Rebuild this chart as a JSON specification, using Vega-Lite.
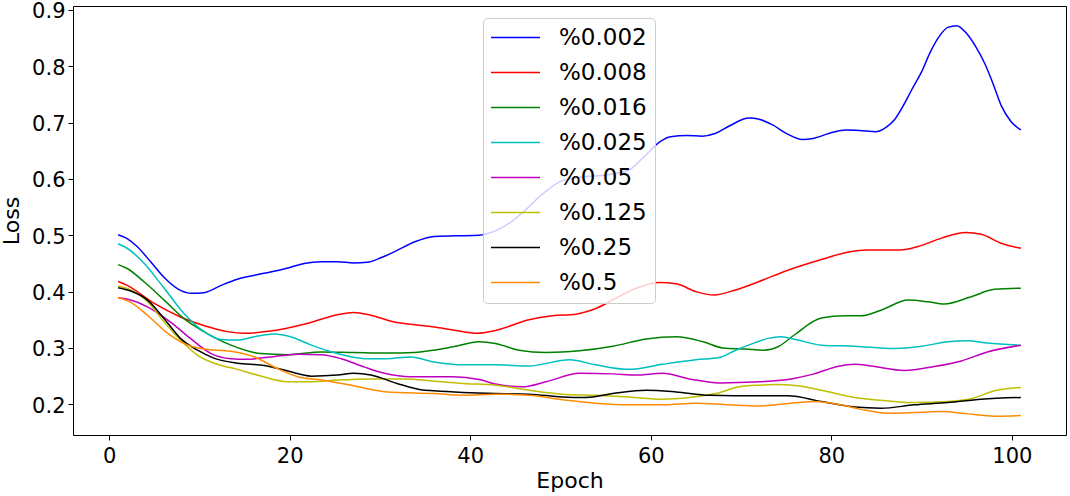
{
  "$schema": "https://vega.github.io/schema/vega-lite/v6.json",
  "width": 993,
  "height": 429,
  "autosize": {"type": "none"},
  "padding": {"left": 73, "top": 6, "right": 4, "bottom": 61},
  "background": "white",
  "config": {
    "view": {"stroke": "black", "strokeWidth": 1},
    "font": "DejaVu Sans",
    "axis": {
      "domain": false, "grid": false, "tickColor": "black", "tickSize": 5, "tickWidth": 1,
      "labelFont": "DejaVu Sans", "labelFontSize": 21, "labelColor": "black",
      "titleFont": "DejaVu Sans", "titleFontSize": 22, "titleFontWeight": "normal", "titleColor": "black"
    }
  },
  "data": {"values": [
    {"s":"%0.002","e":1,"v":0.501},{"s":"%0.002","e":2,"v":0.494},{"s":"%0.002","e":3.1,"v":0.480},{"s":"%0.002","e":4.6,"v":0.453},{"s":"%0.002","e":6.1,"v":0.425},{"s":"%0.002","e":7.6,"v":0.405},{"s":"%0.002","e":9.2,"v":0.397},{"s":"%0.002","e":10.5,"v":0.398},{"s":"%0.002","e":12.4,"v":0.411},{"s":"%0.002","e":14.2,"v":0.422},{"s":"%0.002","e":16.1,"v":0.429},{"s":"%0.002","e":17.9,"v":0.435},{"s":"%0.002","e":19.8,"v":0.442},{"s":"%0.002","e":21.6,"v":0.450},{"s":"%0.002","e":23.5,"v":0.453},{"s":"%0.002","e":25.3,"v":0.453},{"s":"%0.002","e":27.1,"v":0.451},{"s":"%0.002","e":28.6,"v":0.452},{"s":"%0.002","e":30.1,"v":0.460},{"s":"%0.002","e":32,"v":0.474},{"s":"%0.002","e":33.8,"v":0.488},{"s":"%0.002","e":36,"v":0.498},{"s":"%0.002","e":38.5,"v":0.499},{"s":"%0.002","e":41,"v":0.500},{"s":"%0.002","e":42.5,"v":0.506},{"s":"%0.002","e":44.3,"v":0.521},{"s":"%0.002","e":46,"v":0.543},{"s":"%0.002","e":48,"v":0.573},{"s":"%0.002","e":50.2,"v":0.597},{"s":"%0.002","e":52.8,"v":0.604},{"s":"%0.002","e":55,"v":0.607},{"s":"%0.002","e":57.6,"v":0.616},{"s":"%0.002","e":59.3,"v":0.640},{"s":"%0.002","e":61,"v":0.666},{"s":"%0.002","e":62.2,"v":0.675},{"s":"%0.002","e":64,"v":0.677},{"s":"%0.002","e":65.7,"v":0.676},{"s":"%0.002","e":67.2,"v":0.681},{"s":"%0.002","e":68.7,"v":0.694},{"s":"%0.002","e":70.9,"v":0.708},{"s":"%0.002","e":72,"v":0.706},{"s":"%0.002","e":73.5,"v":0.696},{"s":"%0.002","e":75,"v":0.681},{"s":"%0.002","e":76.8,"v":0.670},{"s":"%0.002","e":78,"v":0.672},{"s":"%0.002","e":79.8,"v":0.681},{"s":"%0.002","e":81.6,"v":0.687},{"s":"%0.002","e":83.1,"v":0.686},{"s":"%0.002","e":85,"v":0.684},{"s":"%0.002","e":86.1,"v":0.692},{"s":"%0.002","e":87,"v":0.705},{"s":"%0.002","e":87.9,"v":0.728},{"s":"%0.002","e":89,"v":0.761},{"s":"%0.002","e":90,"v":0.790},{"s":"%0.002","e":90.9,"v":0.823},{"s":"%0.002","e":92,"v":0.854},{"s":"%0.002","e":92.9,"v":0.869},{"s":"%0.002","e":93.9,"v":0.872},{"s":"%0.002","e":94.9,"v":0.860},{"s":"%0.002","e":96,"v":0.835},{"s":"%0.002","e":97,"v":0.805},{"s":"%0.002","e":97.9,"v":0.770},{"s":"%0.002","e":98.8,"v":0.731},{"s":"%0.002","e":99.9,"v":0.702},{"s":"%0.002","e":101,"v":0.687},

    {"s":"%0.008","e":1,"v":0.418},{"s":"%0.008","e":2,"v":0.411},{"s":"%0.008","e":5,"v":0.379},{"s":"%0.008","e":7.9,"v":0.355},{"s":"%0.008","e":10.5,"v":0.340},{"s":"%0.008","e":13.1,"v":0.329},{"s":"%0.008","e":15,"v":0.326},{"s":"%0.008","e":17.9,"v":0.330},{"s":"%0.008","e":21.6,"v":0.342},{"s":"%0.008","e":25.3,"v":0.359},{"s":"%0.008","e":27.1,"v":0.363},{"s":"%0.008","e":29,"v":0.358},{"s":"%0.008","e":31.6,"v":0.346},{"s":"%0.008","e":33.4,"v":0.342},{"s":"%0.008","e":36,"v":0.337},{"s":"%0.008","e":38.1,"v":0.332},{"s":"%0.008","e":40.8,"v":0.326},{"s":"%0.008","e":42.8,"v":0.331},{"s":"%0.008","e":46.5,"v":0.350},{"s":"%0.008","e":49.1,"v":0.357},{"s":"%0.008","e":51.7,"v":0.360},{"s":"%0.008","e":53.9,"v":0.370},{"s":"%0.008","e":56.1,"v":0.388},{"s":"%0.008","e":58.4,"v":0.406},{"s":"%0.008","e":61,"v":0.416},{"s":"%0.008","e":62.8,"v":0.414},{"s":"%0.008","e":65,"v":0.400},{"s":"%0.008","e":67,"v":0.394},{"s":"%0.008","e":69.4,"v":0.403},{"s":"%0.008","e":72,"v":0.418},{"s":"%0.008","e":75.2,"v":0.438},{"s":"%0.008","e":78.9,"v":0.457},{"s":"%0.008","e":81.8,"v":0.470},{"s":"%0.008","e":84,"v":0.474},{"s":"%0.008","e":87.7,"v":0.474},{"s":"%0.008","e":89.6,"v":0.480},{"s":"%0.008","e":92.2,"v":0.495},{"s":"%0.008","e":94.9,"v":0.505},{"s":"%0.008","e":96.6,"v":0.502},{"s":"%0.008","e":98.8,"v":0.486},{"s":"%0.008","e":101,"v":0.477},

    {"s":"%0.016","e":1,"v":0.448},{"s":"%0.016","e":2,"v":0.441},{"s":"%0.016","e":3.9,"v":0.417},{"s":"%0.016","e":6.1,"v":0.385},{"s":"%0.016","e":8.3,"v":0.352},{"s":"%0.016","e":10.5,"v":0.329},{"s":"%0.016","e":13.5,"v":0.305},{"s":"%0.016","e":16.8,"v":0.290},{"s":"%0.016","e":19.8,"v":0.288},{"s":"%0.016","e":23.5,"v":0.293},{"s":"%0.016","e":27.1,"v":0.292},{"s":"%0.016","e":30.8,"v":0.291},{"s":"%0.016","e":33.8,"v":0.292},{"s":"%0.016","e":36,"v":0.296},{"s":"%0.016","e":38.1,"v":0.302},{"s":"%0.016","e":41,"v":0.311},{"s":"%0.016","e":42.8,"v":0.308},{"s":"%0.016","e":45.4,"v":0.296},{"s":"%0.016","e":48.4,"v":0.292},{"s":"%0.016","e":52.1,"v":0.295},{"s":"%0.016","e":55.8,"v":0.303},{"s":"%0.016","e":59.5,"v":0.316},{"s":"%0.016","e":62.8,"v":0.320},{"s":"%0.016","e":65.8,"v":0.311},{"s":"%0.016","e":68,"v":0.300},{"s":"%0.016","e":70.5,"v":0.298},{"s":"%0.016","e":72.5,"v":0.296},{"s":"%0.016","e":74.2,"v":0.303},{"s":"%0.016","e":75.9,"v":0.323},{"s":"%0.016","e":78.9,"v":0.353},{"s":"%0.016","e":81.5,"v":0.357},{"s":"%0.016","e":83.3,"v":0.357},{"s":"%0.016","e":85.5,"v":0.367},{"s":"%0.016","e":88.5,"v":0.385},{"s":"%0.016","e":90.7,"v":0.382},{"s":"%0.016","e":92.5,"v":0.378},{"s":"%0.016","e":95.5,"v":0.391},{"s":"%0.016","e":98.1,"v":0.404},{"s":"%0.016","e":101,"v":0.406},

    {"s":"%0.025","e":1,"v":0.485},{"s":"%0.025","e":2,"v":0.477},{"s":"%0.025","e":3.9,"v":0.450},{"s":"%0.025","e":6.1,"v":0.406},{"s":"%0.025","e":8.3,"v":0.361},{"s":"%0.025","e":10.5,"v":0.329},{"s":"%0.025","e":12.4,"v":0.315},{"s":"%0.025","e":14.2,"v":0.314},{"s":"%0.025","e":16.1,"v":0.320},{"s":"%0.025","e":18.3,"v":0.325},{"s":"%0.025","e":20.1,"v":0.320},{"s":"%0.025","e":22.4,"v":0.305},{"s":"%0.025","e":25.3,"v":0.290},{"s":"%0.025","e":28.3,"v":0.281},{"s":"%0.025","e":30.8,"v":0.281},{"s":"%0.025","e":33.4,"v":0.284},{"s":"%0.025","e":36,"v":0.275},{"s":"%0.025","e":39.2,"v":0.270},{"s":"%0.025","e":42.8,"v":0.270},{"s":"%0.025","e":46.5,"v":0.268},{"s":"%0.025","e":51,"v":0.279},{"s":"%0.025","e":53.9,"v":0.270},{"s":"%0.025","e":57.6,"v":0.262},{"s":"%0.025","e":61.3,"v":0.271},{"s":"%0.025","e":65,"v":0.279},{"s":"%0.025","e":67.6,"v":0.283},{"s":"%0.025","e":69.4,"v":0.296},{"s":"%0.025","e":71.5,"v":0.309},{"s":"%0.025","e":73,"v":0.317},{"s":"%0.025","e":74.4,"v":0.320},{"s":"%0.025","e":76.3,"v":0.314},{"s":"%0.025","e":78.9,"v":0.305},{"s":"%0.025","e":82.6,"v":0.303},{"s":"%0.025","e":87,"v":0.299},{"s":"%0.025","e":90,"v":0.303},{"s":"%0.025","e":92.9,"v":0.311},{"s":"%0.025","e":95.1,"v":0.313},{"s":"%0.025","e":97.3,"v":0.309},{"s":"%0.025","e":101,"v":0.305},

    {"s":"%0.05","e":1,"v":0.389},{"s":"%0.05","e":2.4,"v":0.385},{"s":"%0.05","e":4.25,"v":0.373},{"s":"%0.05","e":6.8,"v":0.346},{"s":"%0.05","e":9,"v":0.317},{"s":"%0.05","e":11.3,"v":0.290},{"s":"%0.05","e":13.5,"v":0.281},{"s":"%0.05","e":15.3,"v":0.280},{"s":"%0.05","e":17.9,"v":0.284},{"s":"%0.05","e":20.9,"v":0.289},{"s":"%0.05","e":23.5,"v":0.288},{"s":"%0.05","e":25.7,"v":0.281},{"s":"%0.05","e":28.3,"v":0.266},{"s":"%0.05","e":30.5,"v":0.255},{"s":"%0.05","e":33.4,"v":0.249},{"s":"%0.05","e":36,"v":0.249},{"s":"%0.05","e":38.1,"v":0.249},{"s":"%0.05","e":41,"v":0.244},{"s":"%0.05","e":42.8,"v":0.236},{"s":"%0.05","e":45.8,"v":0.231},{"s":"%0.05","e":48.4,"v":0.240},{"s":"%0.05","e":52.1,"v":0.255},{"s":"%0.05","e":55.8,"v":0.254},{"s":"%0.05","e":58.4,"v":0.252},{"s":"%0.05","e":61.3,"v":0.255},{"s":"%0.05","e":64.6,"v":0.244},{"s":"%0.05","e":67.6,"v":0.238},{"s":"%0.05","e":72,"v":0.240},{"s":"%0.05","e":75.2,"v":0.244},{"s":"%0.05","e":78.1,"v":0.254},{"s":"%0.05","e":80.7,"v":0.267},{"s":"%0.05","e":82.6,"v":0.271},{"s":"%0.05","e":84.4,"v":0.268},{"s":"%0.05","e":88.1,"v":0.260},{"s":"%0.05","e":91.4,"v":0.267},{"s":"%0.05","e":94.4,"v":0.277},{"s":"%0.05","e":97.3,"v":0.293},{"s":"%0.05","e":101,"v":0.305},

    {"s":"%0.125","e":1,"v":0.410},{"s":"%0.125","e":2.4,"v":0.403},{"s":"%0.125","e":4.25,"v":0.382},{"s":"%0.125","e":6.1,"v":0.346},{"s":"%0.125","e":7.9,"v":0.314},{"s":"%0.125","e":9.8,"v":0.287},{"s":"%0.125","e":12,"v":0.271},{"s":"%0.125","e":14.2,"v":0.262},{"s":"%0.125","e":16.4,"v":0.252},{"s":"%0.125","e":19.8,"v":0.240},{"s":"%0.125","e":22.4,"v":0.240},{"s":"%0.125","e":25.3,"v":0.243},{"s":"%0.125","e":29,"v":0.245},{"s":"%0.125","e":32.7,"v":0.245},{"s":"%0.125","e":36,"v":0.241},{"s":"%0.125","e":39.2,"v":0.237},{"s":"%0.125","e":42.8,"v":0.234},{"s":"%0.125","e":46.5,"v":0.225},{"s":"%0.125","e":50.2,"v":0.218},{"s":"%0.125","e":53.9,"v":0.216},{"s":"%0.125","e":57.6,"v":0.213},{"s":"%0.125","e":61.3,"v":0.209},{"s":"%0.125","e":64.3,"v":0.212},{"s":"%0.125","e":67.2,"v":0.219},{"s":"%0.125","e":69.8,"v":0.231},{"s":"%0.125","e":72,"v":0.234},{"s":"%0.125","e":73.7,"v":0.235},{"s":"%0.125","e":76.3,"v":0.233},{"s":"%0.125","e":78.9,"v":0.225},{"s":"%0.125","e":82.6,"v":0.212},{"s":"%0.125","e":86.3,"v":0.206},{"s":"%0.125","e":89.2,"v":0.203},{"s":"%0.125","e":92.9,"v":0.205},{"s":"%0.125","e":95.5,"v":0.210},{"s":"%0.125","e":98.1,"v":0.224},{"s":"%0.125","e":101,"v":0.230},

    {"s":"%0.25","e":1,"v":0.407},{"s":"%0.25","e":2.4,"v":0.401},{"s":"%0.25","e":4.25,"v":0.385},{"s":"%0.25","e":6.1,"v":0.352},{"s":"%0.25","e":7.9,"v":0.317},{"s":"%0.25","e":9.8,"v":0.296},{"s":"%0.25","e":11.6,"v":0.282},{"s":"%0.25","e":14.2,"v":0.273},{"s":"%0.25","e":17.2,"v":0.269},{"s":"%0.25","e":19.8,"v":0.259},{"s":"%0.25","e":22.4,"v":0.250},{"s":"%0.25","e":25.3,"v":0.252},{"s":"%0.25","e":27.1,"v":0.255},{"s":"%0.25","e":29,"v":0.252},{"s":"%0.25","e":31.9,"v":0.237},{"s":"%0.25","e":34.5,"v":0.226},{"s":"%0.25","e":36,"v":0.224},{"s":"%0.25","e":39.2,"v":0.221},{"s":"%0.25","e":42.8,"v":0.219},{"s":"%0.25","e":46.5,"v":0.218},{"s":"%0.25","e":50.2,"v":0.213},{"s":"%0.25","e":52.8,"v":0.212},{"s":"%0.25","e":55.8,"v":0.219},{"s":"%0.25","e":59.5,"v":0.225},{"s":"%0.25","e":62.8,"v":0.222},{"s":"%0.25","e":66.5,"v":0.216},{"s":"%0.25","e":72,"v":0.215},{"s":"%0.25","e":75.2,"v":0.215},{"s":"%0.25","e":78.9,"v":0.205},{"s":"%0.25","e":82.6,"v":0.195},{"s":"%0.25","e":85.5,"v":0.193},{"s":"%0.25","e":89.2,"v":0.199},{"s":"%0.25","e":92.9,"v":0.203},{"s":"%0.25","e":96.6,"v":0.209},{"s":"%0.25","e":101,"v":0.212},

    {"s":"%0.5","e":1,"v":0.389},{"s":"%0.5","e":2.4,"v":0.381},{"s":"%0.5","e":4.25,"v":0.358},{"s":"%0.5","e":6.5,"v":0.326},{"s":"%0.5","e":8.3,"v":0.308},{"s":"%0.5","e":10.5,"v":0.298},{"s":"%0.5","e":13.5,"v":0.294},{"s":"%0.5","e":16.1,"v":0.284},{"s":"%0.5","e":18.7,"v":0.263},{"s":"%0.5","e":20.9,"v":0.249},{"s":"%0.5","e":23.5,"v":0.243},{"s":"%0.5","e":27.1,"v":0.233},{"s":"%0.5","e":30.8,"v":0.222},{"s":"%0.5","e":36,"v":0.219},{"s":"%0.5","e":39.2,"v":0.216},{"s":"%0.5","e":42.8,"v":0.218},{"s":"%0.5","e":46.5,"v":0.216},{"s":"%0.5","e":50.2,"v":0.208},{"s":"%0.5","e":53.9,"v":0.202},{"s":"%0.5","e":57.6,"v":0.199},{"s":"%0.5","e":61.3,"v":0.199},{"s":"%0.5","e":65,"v":0.202},{"s":"%0.5","e":68.7,"v":0.199},{"s":"%0.5","e":72,"v":0.197},{"s":"%0.5","e":74.4,"v":0.200},{"s":"%0.5","e":78.1,"v":0.205},{"s":"%0.5","e":81.1,"v":0.199},{"s":"%0.5","e":83.3,"v":0.191},{"s":"%0.5","e":86.3,"v":0.184},{"s":"%0.5","e":90,"v":0.186},{"s":"%0.5","e":92.2,"v":0.187},{"s":"%0.5","e":95.1,"v":0.183},{"s":"%0.5","e":98.1,"v":0.179},{"s":"%0.5","e":101,"v":0.180}
  ]},
  "mark": {"type": "line", "interpolate": "monotone", "strokeWidth": 1.5},
  "encoding": {
    "x": {"field": "e", "type": "quantitative", "title": "Epoch",
      "scale": {"domain": [-4, 106], "nice": false, "zero": false},
      "axis": {"values": [0, 20, 40, 60, 80, 100], "labelPadding": 5, "titlePadding": 4}},
    "y": {"field": "v", "type": "quantitative", "title": "Loss",
      "scale": {"domain": [0.1455, 0.907], "nice": false, "zero": false},
      "axis": {"values": [0.2, 0.3, 0.4, 0.5, 0.6, 0.7, 0.8, 0.9], "format": ".1f", "labelPadding": 3, "labelOffset": 2, "titlePadding": 8}},
    "color": {"field": "s", "type": "nominal",
      "scale": {"domain": ["%0.002", "%0.008", "%0.016", "%0.025", "%0.05", "%0.125", "%0.25", "%0.5"],
                "range": ["#0000ff", "#ff0000", "#008000", "#00bfbf", "#bf00bf", "#bfbf00", "#000000", "#ff8c00"]},
      "legend": {"orient": "none", "legendX": 410, "legendY": 12, "title": null,
        "symbolType": "M-2.45,0H2.45", "symbolSize": 400, "symbolStrokeWidth": 1.5, "symbolOffset": 13,
        "labelFont": "DejaVu Sans", "labelFontSize": 23, "labelColor": "black", "labelOffset": 32,
        "rowPadding": 11, "padding": 8, "fillColor": "rgba(255,255,255,0.8)", "strokeColor": "#cccccc", "cornerRadius": 4}}
  }
}
